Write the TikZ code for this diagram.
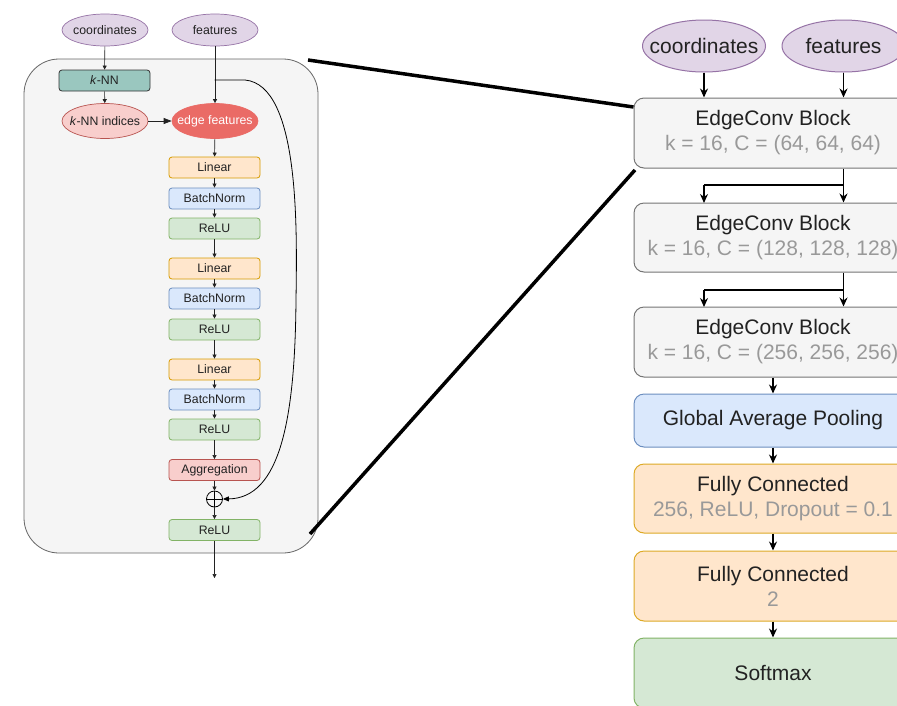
\documentclass[tikz,border=0pt]{standalone}
\usepackage{fontspec}
\setmainfont{Liberation Sans}
\usetikzlibrary{arrows.meta,shapes.geometric}
\definecolor{purF}{HTML}{E1D5E7}\definecolor{purD}{HTML}{9673A6}
\definecolor{orF}{HTML}{FFE6CC}\definecolor{orD}{HTML}{D79B00}
\definecolor{blF}{HTML}{DAE8FC}\definecolor{blD}{HTML}{6C8EBF}
\definecolor{grF}{HTML}{D5E8D4}\definecolor{grD}{HTML}{82B366}
\definecolor{rdF}{HTML}{F8CECC}\definecolor{rdD}{HTML}{B85450}
\definecolor{rdS}{HTML}{EA6B66}
\definecolor{tlF}{HTML}{9AC7BF}
\definecolor{gyF}{HTML}{F5F5F5}\definecolor{gyD}{HTML}{666666}
\definecolor{txt}{HTML}{222222}\definecolor{sub}{HTML}{999999}
\begin{document}
\begin{tikzpicture}[x=1pt,y=-1pt,
  smf/.style={font=\fontsize{12.3}{14}\selectfont,text=txt},
  lgf/.style={font=\fontsize{21}{25}\selectfont,text=txt},
  sellip/.style={ellipse,draw=purD,fill=purF,minimum width=86pt,minimum height=32pt,inner sep=0pt,line width=0.7pt},
  lellip/.style={ellipse,draw=purD,fill=purF,line width=1pt,minimum width=123pt,minimum height=52pt,inner sep=0pt},
  sbox/.style={rectangle,rounded corners=3pt,minimum width=91pt,minimum height=21pt,inner sep=0pt,smf,line width=0.8pt},
  lbox/.style={rectangle,rounded corners=10pt,minimum width=278pt,inner sep=0pt,lgf,line width=1pt,align=center},
  sarr/.style={draw=txt,line width=0.6pt,-{Triangle[length=4pt,width=4pt]}},
  larr/.style={draw=black,line width=1.3pt,-{Stealth[length=9pt,width=8pt]}},
  zoomline/.style={draw=black,line width=3.5pt}
]
\useasboundingbox (0,0) rectangle (897,705);
\fill[white] (0,0) rectangle (897,705);
% ---------- left detail ----------
\draw[draw=gyD,fill=gyF,rounded corners=35pt,line width=0.8pt] (24,59) rectangle (318,553);
\node[sellip,label={[smf]center:coordinates}] (lco) at (105,30) {};
\node[sellip,label={[smf]center:features}] (lfe) at (215,30) {};
\node[sbox,draw=black!80,fill=tlF] (knn) at (104.5,80.5) {\textit{k}-NN};
\node[sellip,draw=rdD,fill=rdF,minimum height=35pt,label={[smf]center:\textit{k}-NN indices}] (kni) at (105,121) {};
\node[sellip,draw=rdS,fill=rdS,minimum height=35pt,label={[smf,text=white]center:edge features}] (ef) at (215,121) {};
\node[sbox,draw=orD,fill=orF] (lin1) at (214.5,167.5) {Linear};
\node[sbox,draw=blD,fill=blF] (bn1) at (214.5,198.5) {BatchNorm};
\node[sbox,draw=grD,fill=grF] (re1) at (214.5,228.5) {ReLU};
\node[sbox,draw=orD,fill=orF] (lin2) at (214.5,268.5) {Linear};
\node[sbox,draw=blD,fill=blF] (bn2) at (214.5,298.5) {BatchNorm};
\node[sbox,draw=grD,fill=grF] (re2) at (214.5,329.5) {ReLU};
\node[sbox,draw=orD,fill=orF] (lin3) at (214.5,369.5) {Linear};
\node[sbox,draw=blD,fill=blF] (bn3) at (214.5,399.5) {BatchNorm};
\node[sbox,draw=grD,fill=grF] (re3) at (214.5,429.5) {ReLU};
\node[sbox,draw=rdD,fill=rdF] (agg) at (214.5,470) {Aggregation};
\node[circle,draw=black,line width=0.8pt,minimum size=16pt,inner sep=0pt] (plus) at (214.5,499) {};
\draw[line width=0.8pt] (plus.north) -- (plus.south) (plus.west) -- (plus.east);
\node[sbox,draw=grD,fill=grF] (re4) at (214.5,530) {ReLU};
\coordinate (out) at (214.5,578);
\coordinate (br) at (214.5,80);
\draw[sarr] (lco) -- (knn);
\draw[sarr] (knn) -- (kni);
\draw[draw=txt,line width=0.7pt,-{Triangle[length=8pt,width=6pt]}] (kni) -- (ef);
\draw[sarr] (lfe) -- (ef);
\draw[sarr] (ef) -- (lin1);
\draw[sarr] (lin1) -- (bn1);
\draw[sarr] (bn1) -- (re1);
\draw[sarr] (re1) -- (lin2);
\draw[sarr] (lin2) -- (bn2);
\draw[sarr] (bn2) -- (re2);
\draw[sarr] (re2) -- (lin3);
\draw[sarr] (lin3) -- (bn3);
\draw[sarr] (bn3) -- (re3);
\draw[sarr] (re3) -- (agg);
\draw[sarr] (agg) -- (plus);
\draw[sarr] (plus) -- (re4);
\draw[sarr] (re4) -- (out);
\draw[draw=black,line width=0.8pt,-{Triangle[length=6pt,width=5pt]}] (br) -- (245,80)
  .. controls (300,85) and (297,230) .. (296,300)
  .. controls (295,420) and (280,498) .. (plus.east);
% ---------- right overview ----------
\node[lellip,label={[lgf]center:coordinates}] (rco) at (704,46) {};
\node[lellip,label={[lgf]center:features}] (rfe) at (843.5,46) {};
\node[lbox,draw=gyD!90,fill=gyF,minimum height=70pt] (ec1) at (773,133) {EdgeConv Block\\\textcolor{sub}{k = 16, C = (64, 64, 64)}};
\node[lbox,draw=gyD!90,fill=gyF,minimum height=69pt] (ec2) at (773,237.5) {EdgeConv Block\\\textcolor{sub}{k = 16, C = (128, 128, 128)}};
\node[lbox,draw=gyD!90,fill=gyF,minimum height=70pt] (ec3) at (773,342) {EdgeConv Block\\\textcolor{sub}{k = 16, C = (256, 256, 256)}};
\node[lbox,draw=blD,fill=blF,minimum height=53pt] (gap) at (773,420.5) {Global Average Pooling};
\node[lbox,draw=orD!85,fill=orF,minimum height=69pt] (fc1) at (773,498.5) {Fully Connected\\\textcolor{sub}{256, ReLU, Dropout = 0.1}};
\node[lbox,draw=orD!85,fill=orF,minimum height=70pt] (fc2) at (773,586) {Fully Connected\\\textcolor{sub}{2}};
\node[lbox,draw=grD,fill=grF,minimum height=70pt] (sm) at (773,673) {Softmax};
\draw[larr] (rco) -- (rco |- ec1.north);
\draw[larr] (rfe) -- (rfe |- ec1.north);
\coordinate (j1) at (843.5,185);
\coordinate (j2) at (843.5,290);
\draw[line width=1.3pt] (j1 |- ec1.south) -- (j1) -- (704,185);
\draw[larr] (j1) -- (j1 |- ec2.north);
\draw[larr] (704,185) -- (704,203);
\draw[line width=1.3pt] (j2 |- ec2.south) -- (j2) -- (704,290);
\draw[larr] (j2) -- (j2 |- ec3.north);
\draw[larr] (704,290) -- (704,307);
\draw[larr] (ec3) -- (gap);
\draw[larr] (gap) -- (fc1);
\draw[larr] (fc1) -- (fc2);
\draw[larr] (fc2) -- (sm);
% ---------- zoom lines ----------
\coordinate (z1) at (308,60);
\coordinate (z2) at (310,534);
\draw[zoomline] (z1) -- (ec1.west |- 0,107);
\draw[zoomline] (z2) -- (635,170);
\end{tikzpicture}
\end{document}
